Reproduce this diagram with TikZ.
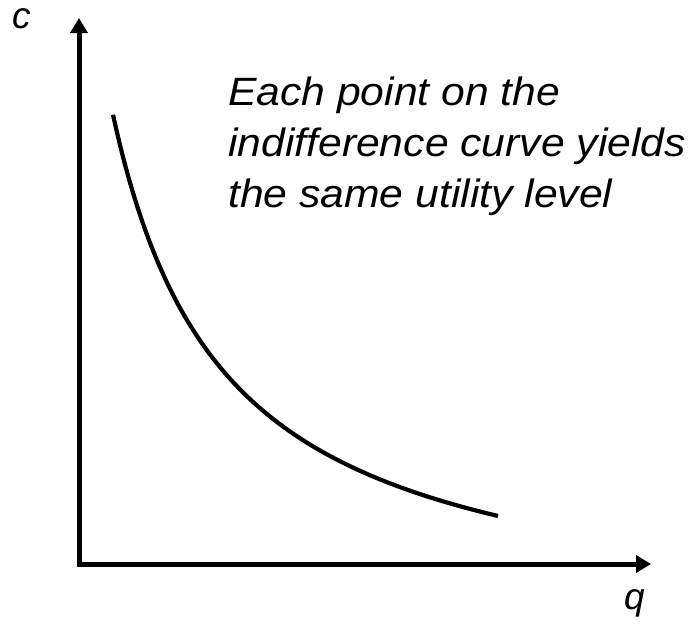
\documentclass[tikz,border=0pt]{standalone}
\usepackage{fontspec}
\setmainfont{Liberation Sans}
\usetikzlibrary{arrows.meta}
\begin{document}
\begin{tikzpicture}[x=1pt,y=-1pt,
  axis/.style={line width=5pt,line join=miter,
    {Triangle[length=15pt,width=17pt]}-{Triangle[length=15pt,width=17pt]}},
  curveline/.style={line width=4.2pt,line cap=butt},
  axislabel/.style={font=\fontsize{37}{40}\selectfont\itshape,inner sep=0pt,anchor=base},
  note/.style={font=\fontsize{39.5}{51}\selectfont\itshape,inner sep=0pt,anchor=base west,align=left,xscale=1.08,transform shape}]
\useasboundingbox (0,0) rectangle (691,625);
\coordinate (ytip) at (79,18);
\coordinate (origin) at (79,564);
\coordinate (xtip) at (651,564);
\draw[axis] (ytip) -- (origin) -- (xtip);
\node[axislabel] (c) at (22,28) {c};
\node[axislabel] (q) at (635,609) {q};
\draw[curveline] plot[domain=113:498,samples=120] (\x,{633.7-586.09/(\x*0.01)});
\node[note] (txt) at (228,207) {Each point on the\\indifference curve yields\\the same utility level};
\end{tikzpicture}
\end{document}
